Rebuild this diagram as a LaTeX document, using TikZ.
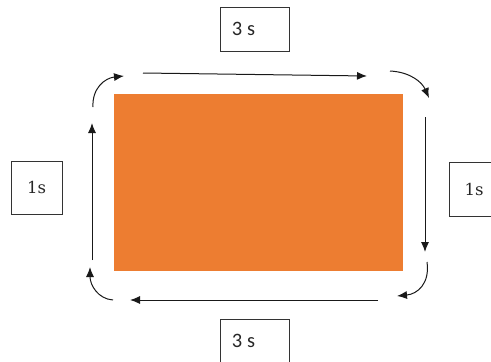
\documentclass[tikz,border=0pt]{standalone}
\usepackage{fontspec}
\newfontfamily\calfont{Carlito}
\newfontfamily\serfont{DejaVu Serif}
\usetikzlibrary{arrows.meta}
\begin{document}
\begin{tikzpicture}[x=1pt,y=-1pt,
  lbl/.style={draw=black!80,line width=0.9pt,minimum width=69pt,minimum height=44pt,inner sep=0pt},
  sectxt/.style={font=\calfont\fontsize{20.5}{24}\selectfont,text=black!85},
  onetxt/.style={font=\serfont\fontsize{16.5}{20}\selectfont,text=black!85},
  flow/.style={line width=1pt,draw=black!90,-{Latex[length=10pt,width=8pt]}}]
\useasboundingbox (0,0) rectangle (491,362);
\fill[fill={rgb,255:red,237;green,125;blue,49}] (114,94) rectangle (403,271);
\node[lbl] (top) at (254.5,29) {};
\node[sectxt] at ([xshift=-11pt]top.center) {3 s};
\node[lbl] (bot) at (254.5,341) {};
\node[sectxt] at ([xshift=-11pt]bot.center) {3 s};
\node[lbl,minimum width=51pt,minimum height=53pt,onetxt] (left) at (36.5,187.5) {1s};
\node[lbl,minimum width=51pt,minimum height=54pt,anchor=west] (right) at (449,189) {};
\node[onetxt] at (474,189) {1s};
\coordinate (t1) at (143,73);
\coordinate (t2) at (367,76);
\coordinate (r1) at (425,117);
\coordinate (r2) at (425,252);
\coordinate (b1) at (378,300);
\coordinate (b2) at (130,300);
\coordinate (l1) at (92,260);
\coordinate (l2) at (92,123);
\coordinate (c1s) at (93,107);
\coordinate (c1e) at (124,76);
\coordinate (c2s) at (390,71);
\coordinate (c2e) at (429,98);
\coordinate (c3s) at (427,262);
\coordinate (c3e) at (397,296);
\coordinate (c4s) at (113,300);
\coordinate (c4e) at (90,267);
\draw[flow] (t1) -- (t2);
\draw[flow] (r1) -- (r2);
\draw[flow] (b1) -- (b2);
\draw[flow] (l1) -- (l2);
\draw[flow] (c1s) .. controls (92,88) and (105,78) .. (c1e);
\draw[flow] (c2s) .. controls (410,72) and (422,82) .. (c2e);
\draw[flow] (c3s) .. controls (430,283) and (418,294) .. (c3e);
\draw[flow] (c4s) .. controls (98,299) and (90,285) .. (c4e);
\end{tikzpicture}
\end{document}
